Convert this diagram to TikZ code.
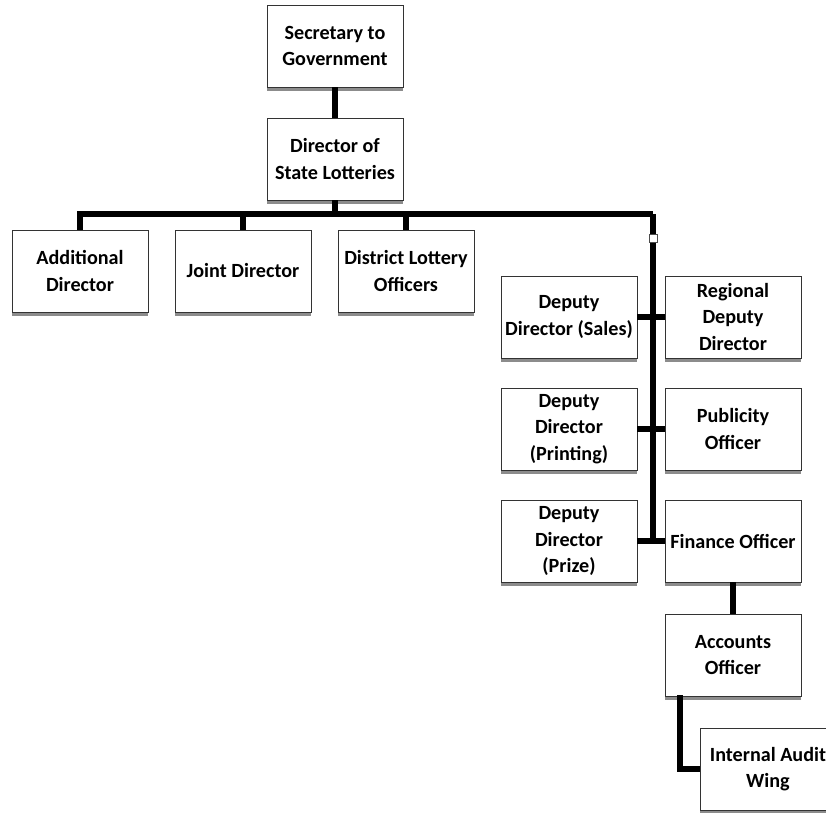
\documentclass[tikz,border=0pt]{standalone}
\usepackage{fontspec}
\setmainfont{Carlito}
\usetikzlibrary{shadows}

\begin{document}
\begin{tikzpicture}[x=0.03cm, y=-0.03cm,
  post/.style={draw=black!80, line width=0.8pt, fill=white, align=center,
    minimum width=4.08cm, minimum height=2.46cm, inner sep=1pt,
    font=\bfseries\fontsize{17.2}{22.5}\selectfont,
    drop shadow={shadow xshift=0pt, shadow yshift=-3.5pt, fill=black!45, opacity=1}},
  link/.style={line width=4.6pt, black},
  tap/.style={draw=black!70, fill=white, line width=0.6pt, minimum size=0.24cm, inner sep=0pt}]
\useasboundingbox (0,0) rectangle (826,813);

% top of the chart
\node[post] (sec) at (335,46) {Secretary to\\Government};
\node[post] (dir) at (335,159) {Director of\\State Lotteries};

% first row
\node[post] (add) at (80,271) {Additional\\Director};
\node[post] (jnt) at (243,271) {Joint Director};
\node[post] (dlo) at (406,271) {District Lottery\\Officers};

% right hand column
\node[post] (dds) at (569,317) {Deputy\\Director (Sales)};
\node[post] (rdd) at (733,317) {Regional\\Deputy\\Director};
\node[post] (ddp) at (569,429) {Deputy\\Director\\(Printing)};
\node[post] (pub) at (733,429) {Publicity\\Officer};
\node[post] (ddz) at (569,541) {Deputy\\Director\\(Prize)};
\node[post] (fin) at (733,541) {Finance Officer};
\node[post] (acc) at (733,655) {Accounts\\Officer};
\node[post] (iaw) at (768,769) {Internal Audit\\Wing};

\coordinate (bus) at (653,214);
\coordinate (a2i) at (680,695);

\draw[link] (sec) -- (dir);
\draw[link] (dir.south) -- (dir.south |- bus);
\draw[link] (add.north) |- (bus);
\draw[link] (jnt.north) -- (jnt.north |- bus);
\draw[link] (dlo.north) -- (dlo.north |- bus);
\draw[link] (bus) -- (bus |- fin.west);

\draw[link] (dds.east) -- (rdd.west);
\draw[link] (ddp.east) -- (pub.west);
\draw[link] (ddz.east) -- (fin.west);
\draw[link] (fin) -- (acc);
\draw[link] (a2i) |- (iaw.west);

\node[tap] (tp) at (653,238) {};

\end{tikzpicture}
\end{document}
